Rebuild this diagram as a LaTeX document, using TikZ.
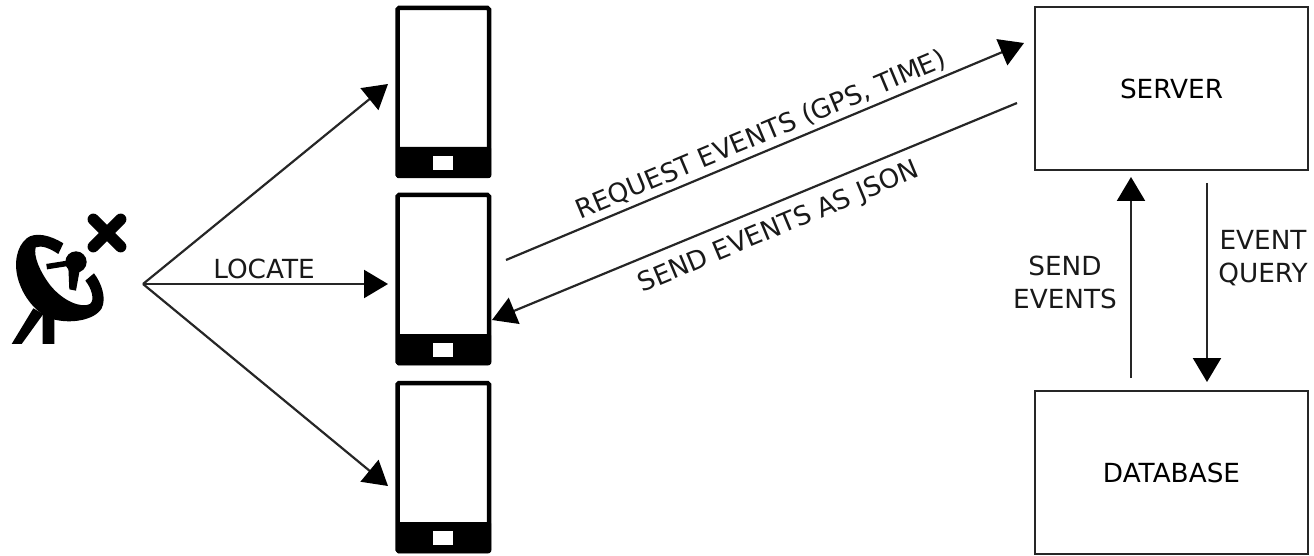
\documentclass[tikz,border=0pt]{standalone}
\usepackage{fontspec}
\setmainfont{DejaVu Sans}
\usetikzlibrary{arrows.meta}
\tikzset{
  conn/.style={draw=black!85,line width=2.2pt,-{Triangle[length=24pt,width=28pt,fill=black,color=black]}},
  boxn/.style={draw=black!85,line width=2.2pt,minimum width=273pt,minimum height=163pt,inner sep=0pt,font=\fontsize{26.3}{33}\selectfont},
  lab/.style={font=\fontsize{26.3}{33}\selectfont,inner sep=0pt,align=center,text=black!90},
  phoneb/.style={draw=black,line width=4.5pt,fill=white,rounded corners=1.5pt},
}
\newcommand{\phonedraw}[2]{%
  \draw[phoneb] (397.5,#1+2) rectangle (489,#1+170);
  \fill[black,rounded corners=1.5pt] (396,#1+141) rectangle (491,#1+172);
  \fill[white] (433,#1+150) rectangle (453,#1+164);
  \coordinate (#2) at (443,#1+86);
}
\begin{document}
\begin{tikzpicture}[x=1pt,y=-1pt]
\useasboundingbox (0,0) rectangle (1314,556);
\phonedraw{6}{phoneA}
\phonedraw{193}{phoneB}
\phonedraw{381}{phoneC}
% antenna
\begin{scope}[shift={(0,190)},x=0.3333pt,y=-0.3333pt]
 \fill (190,160) .. controls (150,135) and (105,125) .. (80,145) .. controls (50,170) and (40,220) .. (55,270) .. controls (70,320) and (105,365) .. (150,385) .. controls (210,405) and (285,390) .. (305,355) .. controls (320,325) and (305,280) .. (282,250) -- (256,272) .. controls (275,295) and (285,330) .. (270,342) .. controls (245,355) and (190,335) .. (150,285) .. controls (120,245) and (100,200) .. (107,172) .. controls (125,165) and (150,175) .. (175,192) -- cycle;
 \fill (228,216) circle (32);
 \draw[line width=5.5pt] (140,230) -- (228,216);
 \fill (208,298) -- (228,302) -- (242,225) -- (205,230) -- cycle;
 \fill (100,355) -- (130,372) -- (65,462) -- (35,462) -- cycle;
 \fill (128,365) -- (163,385) -- (163,462) -- (128,462) -- cycle;
 \draw[line width=11.5pt,line cap=round] (280,88) -- (362,170);
 \draw[line width=11.5pt,line cap=round] (362,88) -- (280,170);
\end{scope}
\coordinate (src) at (143,284);
\coordinate (toA) at (388,84);
\coordinate (toB) at (388,284);
\coordinate (toC) at (388,486);
\draw[conn] (src) -- (toA);
\draw[conn] (src) -- (toB);
\draw[conn] (src) -- (toC);
\node[lab] (locate) at (264,269) {LOCATE};
\node[boxn] (server) at (1171.5,88.5) {SERVER};
\node[boxn] (db) at (1171.5,472.5) {DATABASE};
\coordinate (reqS) at (506,260);
\coordinate (reqE) at (1024,43);
\coordinate (sendS) at (1017,103);
\coordinate (sendE) at (492,320);
\draw[conn] (reqS) -- (reqE);
\draw[conn] (sendS) -- (sendE);
\node[lab,rotate=22.7] (reqL) at (761,135) {REQUEST EVENTS (GPS, TIME)};
\node[lab,rotate=22.7] (sendL) at (779,228) {SEND EVENTS AS JSON};
\coordinate (upS) at (1131,378);
\coordinate (upE) at (1131,177);
\coordinate (dnS) at (1207,183);
\coordinate (dnE) at (1207,382);
\draw[conn] (upS) -- (upE);
\draw[conn] (dnS) -- (dnE);
\node[lab] (sendEv) at (1065,282.5) {SEND\\EVENTS};
\node[lab] (evQ) at (1263,258) {EVENT\\QUERY};
\end{tikzpicture}
\end{document}
